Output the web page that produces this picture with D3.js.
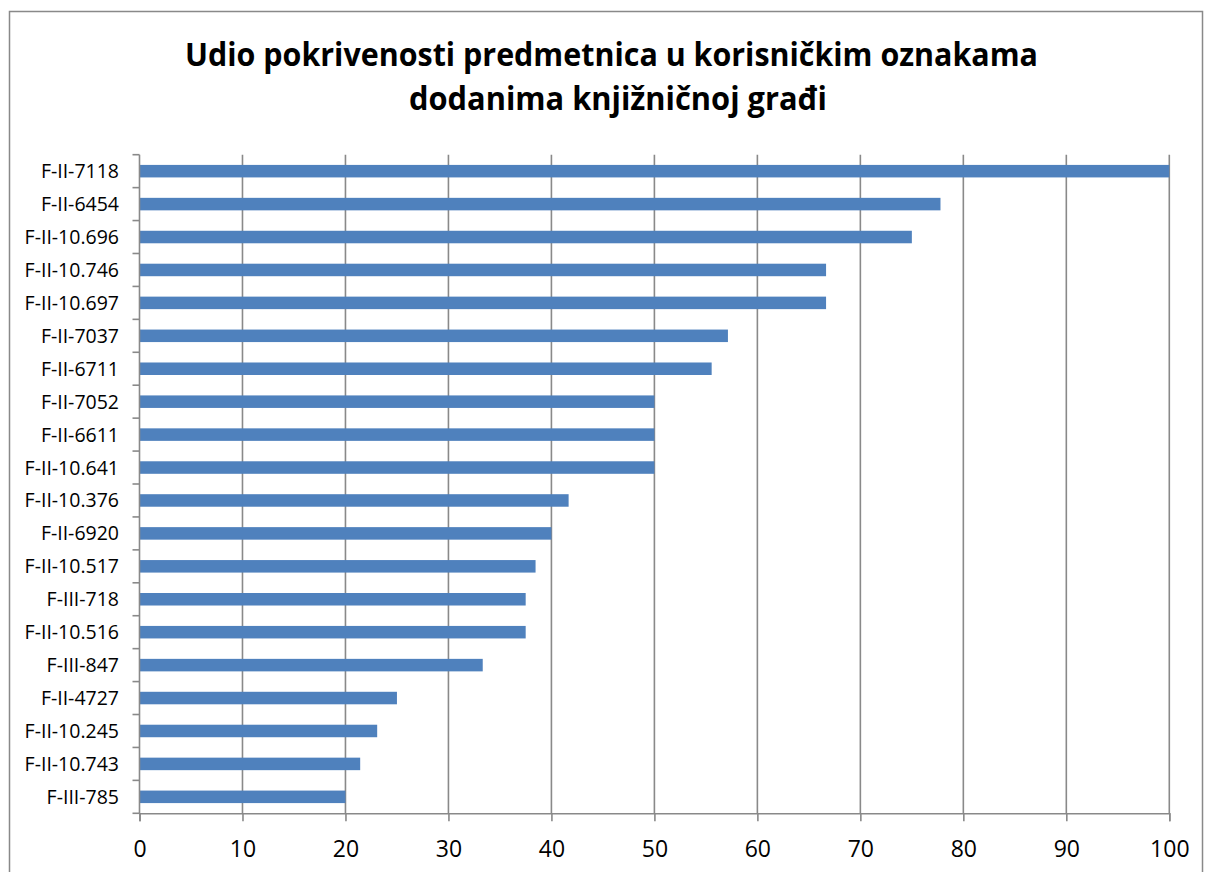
<!DOCTYPE html>
<html>
<head>
<meta charset="utf-8">
<script src="https://cdn.jsdelivr.net/npm/d3@7"></script>
<style>
  html, body { margin: 0; padding: 0; background: #fff; }
  svg { display: block; }
</style>
</head>
<body>
<svg id="chart" width="1207" height="872"></svg>
<script>
// Signatures, top to bottom
const categories = [
  "F-II-7118", "F-II-6454", "F-II-10.696", "F-II-10.746", "F-II-10.697",
  "F-II-7037", "F-II-6711", "F-II-7052", "F-II-6611", "F-II-10.641",
  "F-II-10.376", "F-II-6920", "F-II-10.517", "F-III-718", "F-II-10.516",
  "F-III-847", "F-II-4727", "F-II-10.245", "F-II-10.743", "F-III-785"
];
// Share of subject headings covered by user tags (%)
const values = [
  100, 77.78, 75, 66.67, 66.67,
  57.14, 55.56, 50, 50, 50,
  41.67, 40, 38.46, 37.5, 37.5,
  33.33, 25, 23.08, 21.43, 20
];
const xTicks = [0, 10, 20, 30, 40, 50, 60, 70, 80, 90, 100];
const titleLines = [
  "Udio pokrivenosti predmetnica u korisničkim oznakama",
  "dodanima knjižničnoj građi"
];

const svg = d3.select("#chart");
const grey = "#898989";
const font = "'Open Sans', 'Liberation Sans', sans-serif";

// chart-area frame
svg.append("rect")
  .attr("x", 9.5).attr("y", 11.5)
  .attr("width", 1193).attr("height", 900)
  .attr("fill", "#fff")
  .attr("stroke", grey).attr("stroke-width", 1.5);

const plot = { left: 139.5, right: 1169.3, top: 154.7, bottom: 813.3 };

const x = d3.scaleLinear().domain([0, 100]).range([plot.left, plot.right]);
const y = d3.scaleBand().domain(categories)
  .range([plot.top, plot.bottom]).paddingInner(0.62).paddingOuter(0.31);

// title
const titleWidths = [853, 418];
const titleBaselines = [66, 110];
titleLines.forEach((t, i) => {
  svg.append("text")
    .attr("x", i === 0 ? 611.5 : 618)
    .attr("y", titleBaselines[i])
    .attr("text-anchor", "middle")
    .attr("font-family", font)
    .attr("font-weight", "bold")
    .attr("font-size", 33)
    .attr("fill", "#000")
    .attr("textLength", titleWidths[i])
    .attr("lengthAdjust", "spacingAndGlyphs")
    .text(t);
});

// vertical gridlines
svg.append("g")
  .selectAll("line")
  .data(xTicks.filter(d => d > 0))
  .join("line")
  .attr("x1", d => x(d)).attr("x2", d => x(d))
  .attr("y1", plot.top).attr("y2", plot.bottom)
  .attr("stroke", grey).attr("stroke-width", 1.6);

// bars
svg.append("g")
  .selectAll("rect")
  .data(categories.map((c, i) => ({ c, v: values[i] })))
  .join("rect")
  .attr("x", x(0))
  .attr("y", d => y(d.c))
  .attr("width", d => x(d.v) - x(0))
  .attr("height", y.bandwidth())
  .attr("fill", "#4f81bd");

// x axis
const xAxis = svg.append("g")
  .attr("transform", `translate(0,${plot.bottom})`)
  .call(d3.axisBottom(x).tickValues(xTicks).tickSize(8).tickPadding(19).tickFormat(d3.format("d")));
xAxis.select(".domain").attr("stroke", grey).attr("stroke-width", 1.6);
xAxis.selectAll(".tick line").attr("stroke", grey).attr("stroke-width", 1.6);
xAxis.selectAll(".tick text")
  .attr("font-family", font).attr("font-size", 23).attr("fill", "#000");

// y axis: line plus tick marks at band boundaries
svg.append("line")
  .attr("x1", plot.left).attr("x2", plot.left)
  .attr("y1", plot.top).attr("y2", plot.bottom)
  .attr("stroke", grey).attr("stroke-width", 1.6);
const step = y.step();
svg.append("g")
  .selectAll("line")
  .data(d3.range(categories.length + 1))
  .join("line")
  .attr("x1", plot.left - 7).attr("x2", plot.left)
  .attr("y1", i => plot.top + i * step).attr("y2", i => plot.top + i * step)
  .attr("stroke", grey).attr("stroke-width", 1.6);

svg.append("g")
  .selectAll("text")
  .data(categories)
  .join("text")
  .attr("x", 119)
  .attr("y", d => y(d) + y.bandwidth() / 2)
  .attr("dy", "0.36em")
  .attr("text-anchor", "end")
  .attr("font-family", font)
  .attr("font-size", 19.5)
  .attr("fill", "#000")
  .text(d => d);
</script>
</body>
</html>
